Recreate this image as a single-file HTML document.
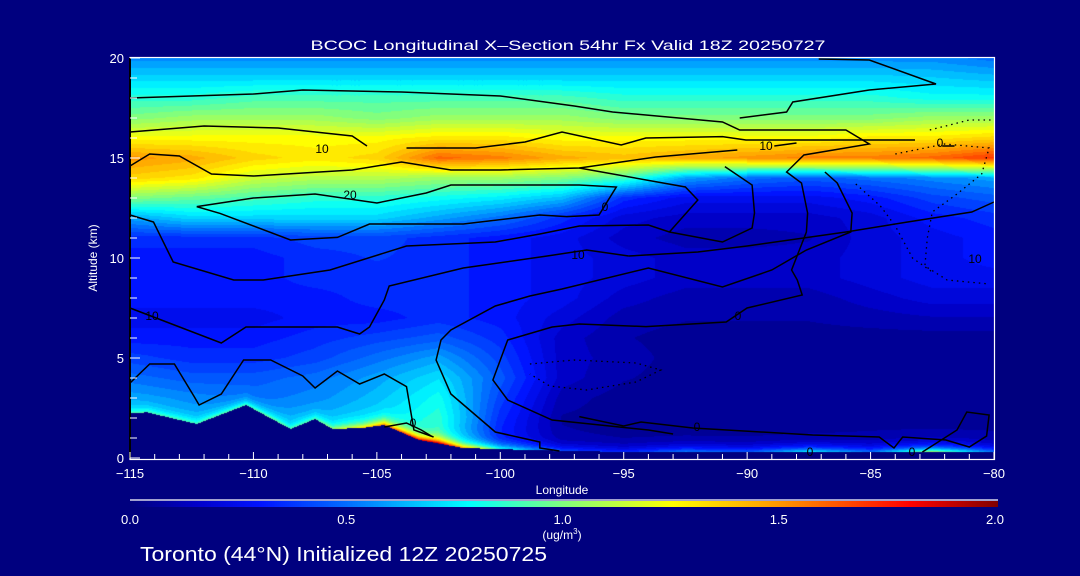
<!DOCTYPE html>
<html><head><meta charset="utf-8"><style>
html,body{margin:0;padding:0;background:#00007f;}
#wrap{position:relative;width:1080px;height:576px;background:#00007f;overflow:hidden;font-family:"Liberation Sans",sans-serif;}
canvas,svg{position:absolute;left:0;top:0;}
</style></head><body>
<div id="wrap">
<canvas id="field" width="864" height="400" style="left:130px;top:58px"></canvas>
<canvas id="cbar" width="868" height="6" style="left:130px;top:501px"></canvas>
<svg id="ov" width="1080" height="576"></svg>
</div>
<script>
const lons=[-115,-112.5,-110,-107.5,-105,-102.5,-100,-97.5,-95,-92.5,-90,-87.5,-85,-82.5,-80];
const conc=[
[0.6,0.6,0.6,0.6,0.6,0.6,0.4,0.15,0.12,0.15,0.15,0.15,0.15,0.15,0.15],
[0.6,0.6,0.6,0.6,0.7,0.8,0.3,0.08,0.06,0.06,0.06,0.06,0.08,0.08,0.08],
[0.65,0.62,0.6,0.62,0.7,0.85,0.35,0.07,0.05,0.05,0.05,0.05,0.05,0.05,0.05],
[0.6,0.55,0.5,0.55,0.65,0.8,0.4,0.1,0.05,0.05,0.05,0.05,0.05,0.05,0.05],
[0.5,0.45,0.45,0.5,0.6,0.72,0.45,0.15,0.08,0.05,0.05,0.05,0.05,0.05,0.05],
[0.4,0.35,0.35,0.4,0.5,0.6,0.4,0.15,0.1,0.05,0.05,0.05,0.05,0.05,0.05],
[0.3,0.3,0.3,0.35,0.4,0.45,0.35,0.15,0.08,0.05,0.05,0.05,0.05,0.05,0.05],
[0.25,0.25,0.25,0.3,0.3,0.35,0.3,0.2,0.1,0.08,0.08,0.08,0.1,0.12,0.12],
[0.3,0.3,0.3,0.3,0.35,0.35,0.3,0.25,0.15,0.1,0.1,0.1,0.15,0.2,0.2],
[0.3,0.3,0.3,0.35,0.35,0.35,0.3,0.25,0.2,0.15,0.15,0.15,0.2,0.25,0.25],
[0.3,0.3,0.3,0.35,0.38,0.35,0.3,0.25,0.2,0.15,0.15,0.15,0.2,0.25,0.3],
[0.35,0.35,0.35,0.4,0.4,0.35,0.3,0.25,0.15,0.1,0.1,0.12,0.2,0.25,0.3],
[0.6,0.7,0.7,0.7,0.7,0.6,0.5,0.35,0.2,0.15,0.15,0.15,0.2,0.3,0.35],
[1.0,0.95,0.9,0.85,0.85,0.8,0.75,0.65,0.35,0.25,0.25,0.25,0.3,0.4,0.45],
[1.35,1.3,1.15,1.1,1.1,1.05,1.05,1.0,0.9,0.6,0.5,0.45,0.5,0.55,0.6],
[1.5,1.45,1.35,1.3,1.35,1.6,1.55,1.45,1.4,1.45,1.5,1.55,1.55,1.6,1.7],
[1.25,1.25,1.25,1.25,1.25,1.3,1.3,1.25,1.25,1.25,1.25,1.25,1.3,1.3,1.35],
[1.0,1.05,1.05,1.05,1.0,1.05,1.05,1.05,1.0,1.0,1.0,1.0,1.0,1.05,1.05],
[0.85,0.85,0.9,0.9,0.9,0.9,0.9,0.9,0.85,0.85,0.85,0.85,0.85,0.8,0.8],
[0.7,0.7,0.7,0.7,0.7,0.7,0.7,0.7,0.7,0.7,0.7,0.7,0.7,0.68,0.65],
[0.55,0.55,0.55,0.55,0.55,0.55,0.55,0.55,0.55,0.55,0.55,0.55,0.55,0.55,0.5]];
const surfBoost=[0.3,0.3,0.4,0.3,0.8,1.25,0.5,0.3,0.25,0.45,0.35,0.7,0.4,1.0,0.4];
const terrLon=[-115,-114.3,-112.3,-110.3,-108.5,-107.5,-106.8,-105.6,-104.7,-103.3,-101.5,-98.8,-95,-90,-85,-80];
const terrAlt=[2.25,2.28,1.7,2.65,1.45,1.95,1.45,1.5,1.65,0.9,0.5,0.4,0.3,0.3,0.3,0.3];
const cbStops=[0,0.15,0.3,0.5,0.65,0.78,1.0,1.25,1.5,1.8,2.0];
const cbColors=[[0,0,125],[0,0,200],[0,20,255],[0,110,255],[0,190,255],[0,255,255],[130,255,125],[255,255,0],[255,150,0],[255,0,0],[128,0,0]];
const yTicks=[0,5,10,15,20];
const xTicks=[-115,-110,-105,-100,-95,-90,-85,-80];
const cbTicks=[0,0.5,1.0,1.5,2.0];
const contours=[
[[-115,18.0],[-110,18.2],[-108,18.4],[-104,18.3],[-100,18.1],[-97,17.6],[-95.45,17.3],[-91,16.8],[-90.3,16.4],[-86,16.4],[-85.05,15.7],[-87.7,15.15],[-88.4,14.3],[-87.8,13.75],[-87.55,12.25],[-87.6,11.3],[-88.2,9.4],[-87.97,8.9],[-87.77,8.15],[-90,7.5],[-90.85,6.8],[-94.1,6.57],[-96.8,6.7],[-97.9,6.55],[-99.7,5.9],[-100.3,3.9],[-99.7,2.9],[-97.9,1.9],[-94,1.4],[-93,1.2]],
[[-87.1,19.95],[-85.05,19.9],[-82.35,18.7],[-85.05,18.4],[-88.15,17.8],[-88.4,17.3],[-90.3,17.0]],
[[-115,16.3],[-112,16.6],[-109,16.5],[-106,16.1],[-105.4,15.6]],
[[-103.8,15.5],[-101,15.5],[-99,15.8],[-97.5,16.3],[-95.1,15.65],[-94.1,16.0],[-91,16.07],[-90.05,15.9],[-83.2,15.9]],
[[-82.1,15.6],[-81.6,15.6]],
[[-115,14.6],[-114.2,15.2],[-113,15.1],[-111.7,14.2],[-110,14.1],[-106,14.4],[-104,14.8],[-102,14.4],[-100,14.4],[-96.8,14.5],[-93.7,15.05],[-90.4,15.4]],
[[-88.9,15.6],[-88,15.75]],
[[-90.9,14.57],[-89.8,13.65],[-89.7,12.25],[-89.8,11.5],[-91,10.8],[-93.15,11.3],[-94,11.65],[-96.8,11.6],[-98.4,11.2],[-100.2,10.8],[-103.8,10.6],[-106.9,9.4],[-109.6,8.9],[-110.8,8.9],[-113.25,9.8],[-114.05,11.8],[-115,12.15]],
[[-96.8,14.5],[-92.5,13.55],[-92.0,12.9],[-93.15,11.3]],
[[-112.3,12.57],[-111.35,12.23],[-108.5,10.9],[-106.6,11.03],[-105.3,11.7],[-101.5,11.7],[-98.4,12.15],[-97.3,12.07],[-96.0,12.15],[-95.3,13.55],[-96.8,13.65],[-98,13.65],[-102,13.65],[-103,13.25],[-105,12.75],[-107.5,13.2],[-110,13.0],[-112.3,12.57]],
[[-86.85,14.3],[-86.35,13.75],[-85.75,12.25],[-85.8,11.3],[-87.6,10.4],[-89,9.4],[-91,8.55],[-94,9.5],[-97.5,8.45],[-98.8,8.1],[-100.2,7.6],[-102,6.4],[-102.4,5.9],[-102.6,4.9],[-102,3.2],[-100.2,1.3],[-98.4,0.8],[-98.4,0.5],[-97.6,0.35]],
[[-94.8,10.1],[-96.5,10.4],[-98.1,10.1],[-101.5,9.5],[-104.5,8.6],[-104.7,7.9],[-105.3,6.55],[-105.7,6.2],[-106.6,6.55],[-110.3,6.55],[-111.3,5.75],[-114.05,7.05],[-115,7.5]],
[[-94.8,10.1],[-92,10.3],[-90,10.6],[-86,11.3],[-83.5,11.8],[-80.9,12.3],[-80,12.8]],
[[-115,3.75],[-114.2,4.7],[-113.2,4.7],[-112.4,3.07],[-112.2,2.65],[-111.3,3.2],[-110.4,4.9],[-109.3,4.9],[-108,4.1],[-107.5,3.5],[-106.6,4.35],[-105.7,3.7],[-104.7,4.2],[-103.8,3.57],[-103.5,1.4],[-102.7,1.05]],
[[-96.8,2.07],[-95,1.6],[-94.3,1.8],[-92.2,1.5],[-87.35,1.15],[-84.65,1.05],[-84.05,0.5],[-83.7,1.05],[-81.95,0.9],[-81,0.55],[-80.3,1.1],[-80.2,2.15],[-81.1,2.3],[-81.5,1.4],[-82.9,0.3]],
[[-104.7,1.55],[-103.8,1.75],[-103.2,1.4],[-102.8,1.1]]
];
const dotted=[
[[-98.8,4.7],[-97,4.9],[-94.5,4.75],[-93.5,4.4],[-94.5,3.8],[-96.5,3.4],[-98,3.6],[-98.8,4.2]],
[[-84,15.2],[-82,15.7],[-80.2,15.5],[-80.5,14.2],[-81.5,13.2],[-82.5,12.3],[-82.7,11],[-82.8,9.6],[-81.9,8.9],[-80.2,8.7]],
[[-82.6,16.4],[-81,16.9],[-80.1,16.9]],
[[-85.6,13.7],[-84.6,12.6],[-84,11.6],[-83.3,10],[-82.5,9.3]]
];

function terrain(lon){
  for(let i=0;i<terrLon.length-1;i++){
    if(lon<=terrLon[i+1]){const t=(lon-terrLon[i])/(terrLon[i+1]-terrLon[i]);return terrAlt[i]+t*(terrAlt[i+1]-terrAlt[i]);}
  }
  return terrAlt[terrAlt.length-1];
}
function interpLon(arr,lon){
  let f=(lon-lons[0])/2.5;let i=Math.min(Math.floor(f),lons.length-2);let t=f-i;
  return arr[i]*(1-t)+arr[i+1]*t;
}
function field(lon,alt){
  let a=Math.max(0,Math.min(20,alt));let j=Math.min(Math.floor(a),19);let s=a-j;
  let v=interpLon(conc[j],lon)*(1-s)+interpLon(conc[j+1],lon)*s;
  const ter=terrain(lon);
  v+=interpLon(surfBoost,lon)*Math.exp(-(alt-ter)/0.25);
  return v;
}
function cmap(v){
  v=Math.max(0,Math.min(2,v));
  for(let i=0;i<cbStops.length-1;i++){
    if(v<=cbStops[i+1]){const t=(v-cbStops[i])/(cbStops[i+1]-cbStops[i]);const a=cbColors[i],b=cbColors[i+1];
      return [a[0]+t*(b[0]-a[0]),a[1]+t*(b[1]-a[1]),a[2]+t*(b[2]-a[2])];}
  }
  return cbColors[cbColors.length-1];
}
const X0=130,X1=994,Y0=458,Y1=58;
const xs=lon=>X0+(lon+115)/35*(X1-X0);
const ys=alt=>Y0-alt/20*(Y0-Y1);
// field
(function(){
  const c=document.getElementById('field'),ctx=c.getContext('2d');
  const img=ctx.createImageData(864,400);
  for(let py=0;py<400;py++){
    const alt=20-(py+0.5)/20;
    for(let px=0;px<864;px++){
      const lon=-115+(px+0.5)/864*35;
      let col;
      if(alt<terrain(lon)) col=[0,0,127];
      else {let v=field(lon,alt);v=Math.round(v*20)/20;col=cmap(v);}
      const k=(py*864+px)*4;img.data[k]=col[0];img.data[k+1]=col[1];img.data[k+2]=col[2];img.data[k+3]=255;
    }
  }
  ctx.putImageData(img,0,0);
  const cb=document.getElementById('cbar'),cx=cb.getContext('2d');
  for(let px=0;px<868;px++){const col=cmap(px/867*2);cx.fillStyle='rgb('+col.map(Math.round).join(',')+')';cx.fillRect(px,0,1,6);}
})();
const NS='http://www.w3.org/2000/svg';
const svg=document.getElementById('ov');
function mk(tag,attrs,parent){const e=document.createElementNS(NS,tag);for(const k in attrs)e.setAttribute(k,attrs[k]);(parent||svg).appendChild(e);return e;}
function txt(x,y,s,size,anchor,extra){const t=mk('text',Object.assign({x:x,y:y,fill:'#fff','font-size':size,'text-anchor':anchor||'middle','font-family':'Liberation Sans, sans-serif'},extra||{}));t.textContent=s;return t;}
// contours
contours.forEach((c,i)=>{
  const p=mk('polyline',{points:c.map(q=>xs(q[0]).toFixed(1)+','+ys(q[1]).toFixed(1)).join(' '),fill:'none',stroke:'#000','stroke-width':1.5});
  
  
});
dotted.forEach(c=>{
  const p=mk('polyline',{points:c.map(q=>xs(q[0]).toFixed(1)+','+ys(q[1]).toFixed(1)).join(' '),fill:'none',stroke:'#000','stroke-width':1.3,'stroke-dasharray':'1.5 4'});
  
  
});
const clabels=[[322,153,'10'],[350,199,'20'],[766,150,'10'],[940,147,'0'],[578,259,'10'],[605,211,'0'],[738,320,'0'],[975,263,'10'],[697,431,'0'],[152,320,'10'],[413,427,'0'],[810,456,'0'],[912,456,'0']];
clabels.forEach(l=>{const t=txt(l[0],l[1],l[2],12,'middle',{fill:'#000'});
  
  });
// frame
const fr=mk('rect',{x:130,y:57.5,width:864.5,height:402,fill:'none',stroke:'#fff','stroke-width':1.2});


mk('line',{x1:130,y1:58,x2:130,y2:458,stroke:'#000','stroke-width':2});
// y ticks
for(let a=0;a<=20;a++){
  const major=a%5===0;
  const l=mk('line',{x1:130,x2:130+(major?10:7),y1:ys(a),y2:ys(a),stroke:'#fff','stroke-width':1});
  
  
}
yTicks.forEach(a=>{const t=txt(124,ys(a)+5,String(a),13,'end');
  
  });
for(let lo=-115;lo<=-80;lo++){
  const major=lo%5===0;
  const l=mk('line',{x1:xs(lo),x2:xs(lo),y1:460,y2:460-(major?8:6),stroke:'#fff','stroke-width':1});
  
  
}
xTicks.forEach(lo=>{const t=txt(xs(lo),478,String(lo).replace('-','\u2212'),13);
  
  });
const xt=txt(562,494,'Longitude',12);


const yt=txt(0,0,'Altitude (km)',12,'middle',{transform:'translate(97,258) rotate(-90)'});


const ti=txt(568,50,'BCOC Longitudinal X\u2013Section 54hr  Fx Valid 18Z 20250727',14,'middle',{textLength:515,lengthAdjust:'spacingAndGlyphs','xml:space':'preserve'});


// colorbar
const cl=mk('line',{x1:130,x2:998,y1:500,y2:500,stroke:'#fff','stroke-width':1.2});


cbTicks.forEach(v=>{const t=txt(130+v/2*865,524,v.toFixed(1),13);
  
  });
const un=txt(562,539,'(ug/m',12);


const ts=mk('tspan',{'font-size':8,dy:-5},un);ts.textContent='3';
const ts2=mk('tspan',{dy:5},un);ts2.textContent=')';
const ft=txt(140,561,'Toronto (44\u00b0N) Initialized 12Z 20250725',20,'start',{textLength:407,lengthAdjust:'spacingAndGlyphs'});


</script>
</body></html>
